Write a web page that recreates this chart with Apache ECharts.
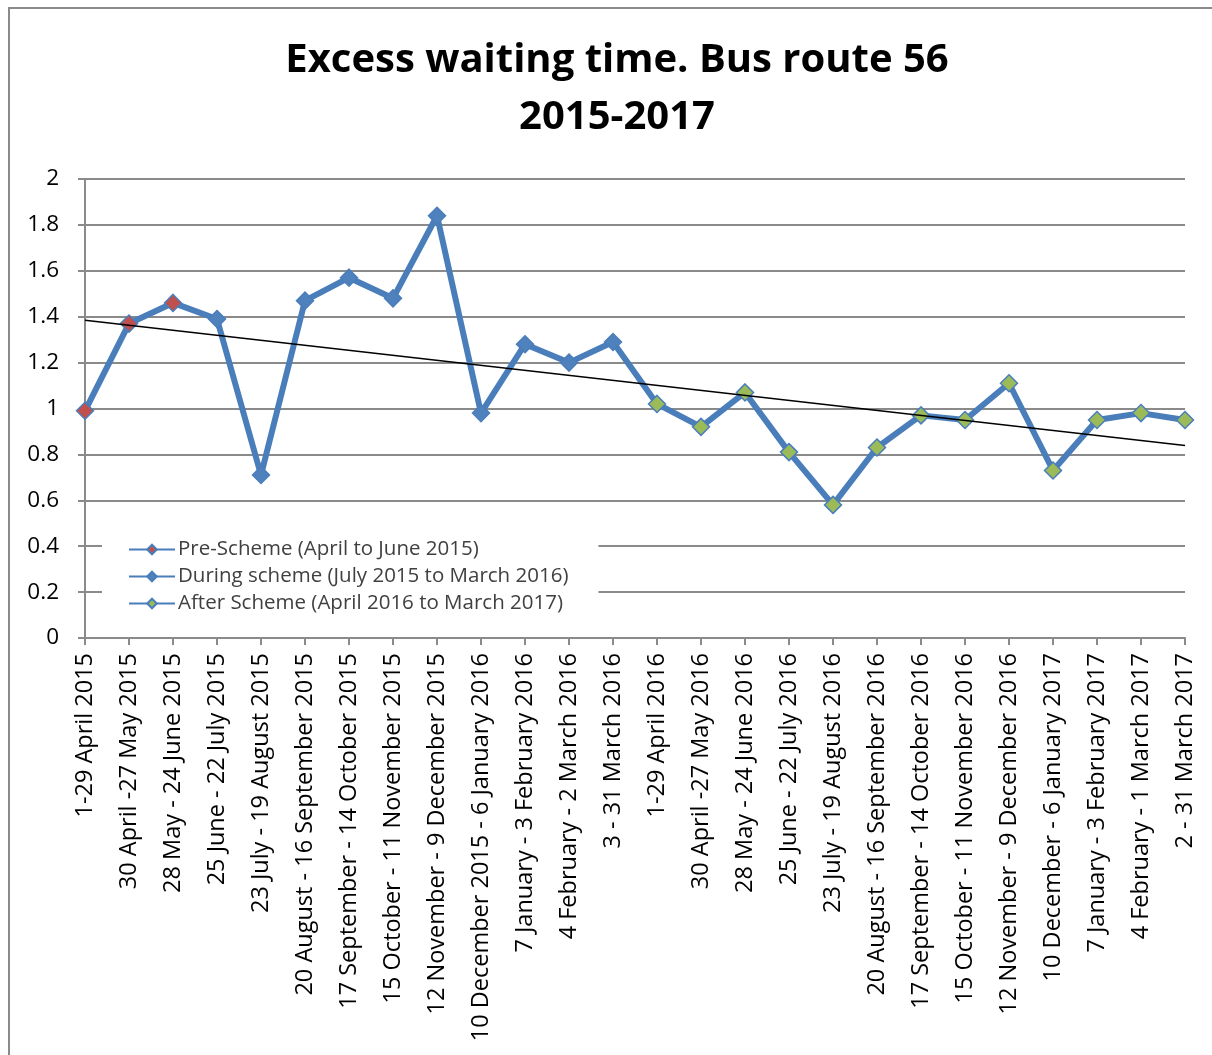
<!DOCTYPE html>
<html>
<head>
<meta charset="utf-8">
<title>Excess waiting time. Bus route 56</title>
<script src="https://cdn.jsdelivr.net/npm/echarts@6/dist/echarts.min.js"></script>
<style>
  html, body { margin: 0; padding: 0; background: #ffffff; }
  #chart { width: 1212px; height: 1055px; }
</style>
</head>
<body>
<div id="chart"></div>
<script>
// Four-weekly reporting periods, April 2015 - March 2017
const categories = [
  '1-29 April 2015', '30 April -27 May 2015', '28 May - 24 June 2015',
  '25 June - 22 July 2015', '23 July - 19 August 2015', '20 August - 16 September 2015',
  '17 September - 14 October 2015', '15 October - 11 November 2015',
  '12 November - 9 December 2015', '10 December 2015 - 6 January 2016',
  '7 January - 3 February 2016', '4 February - 2 March 2016', '3 - 31 March 2016',
  '1-29 April 2016', '30 April -27 May 2016', '28 May - 24 June 2016',
  '25 June - 22 July 2016', '23 July - 19 August 2016', '20 August - 16 September 2016',
  '17 September - 14 October 2016', '15 October - 11 November 2016',
  '12 November - 9 December 2016', '10 December - 6 January 2017',
  '7 January - 3 February 2017', '4 February - 1 March 2017', '2 - 31 March 2017'
];

// Excess waiting time (minutes) per period
const waitingTime = [
  0.99, 1.37, 1.46, 1.39, 0.71, 1.47, 1.57, 1.48, 1.84, 0.98, 1.28, 1.20, 1.29,
  1.02, 0.92, 1.07, 0.81, 0.58, 0.83, 0.97, 0.95, 1.11, 0.73, 0.95, 0.98, 0.95
];

// Scheme phase of each period
const periodPhase = [
  'pre', 'pre', 'pre',
  'during', 'during', 'during', 'during', 'during', 'during', 'during', 'during', 'during', 'during',
  'after', 'after', 'after', 'after', 'after', 'after', 'after', 'after', 'after', 'after', 'after', 'after', 'after'
];

const phaseNames = {
  pre: 'Pre-Scheme (April to June 2015)',
  during: 'During scheme (July 2015 to March 2016)',
  after: 'After Scheme (April 2016 to March 2017)'
};

const yTicks = { min: 0, max: 2, interval: 0.2 };

const lineBlue = '#4A7EBB';
const phaseColor = { pre: '#C0504D', during: '#4F81BD', after: '#9BBB59' };
const font = '"Open Sans", Lato, sans-serif';

// Least-squares linear trend over the period index
function linearTrend(values) {
  const n = values.length;
  let sx = 0, sy = 0, sxx = 0, sxy = 0;
  values.forEach((v, i) => { sx += i; sy += v; sxx += i * i; sxy += i * v; });
  const slope = (n * sxy - sx * sy) / (n * sxx - sx * sx);
  const intercept = (sy - slope * sx) / n;
  return [[0, intercept], [n - 1, intercept + slope * (n - 1)]];
}

const pointData = waitingTime.map((v, i) => ({
  value: v,
  itemStyle: { color: phaseColor[periodPhase[i]] }
}));

const markerStyle = (phase) => ({
  color: phaseColor[phase],
  borderColor: lineBlue,
  borderWidth: 1.5
});

const chart = echarts.init(document.getElementById('chart'), null, { renderer: 'canvas' });

chart.setOption({
  backgroundColor: '#ffffff',
  animation: false,
  title: {
    text: 'Excess waiting time. Bus route 56\n2015-2017',
    left: 612,
    top: 27,
    textAlign: 'center',
    textStyle: {
      fontFamily: font,
      fontWeight: 'bold',
      fontSize: 40,
      lineHeight: 57,
      color: '#000000'
    }
  },
  graphic: [{
    type: 'rect',
    shape: { x: 9, y: 8, width: 1400, height: 1200 },
    style: { fill: 'none', stroke: '#8a8a8a', lineWidth: 2 },
    silent: true,
    z: 0
  }],
  legend: {
    orient: 'vertical',
    left: 102,
    top: 534,
    padding: [5, 30, 8, 26],
    backgroundColor: '#ffffff',
    itemWidth: 46,
    itemHeight: 12,
    itemGap: 6,
    data: [phaseNames.pre, phaseNames.during, phaseNames.after],
    textStyle: {
      fontFamily: font,
      fontSize: 20.5,
      lineHeight: 20,
      color: '#404040',
      padding: [0, 0, 0, -2]
    }
  },
  grid: { left: 85, right: 27, top: 179, bottom: 417, containLabel: false },
  xAxis: {
    type: 'category',
    data: categories,
    boundaryGap: false,
    axisLine: { lineStyle: { color: '#8a8a8a', width: 2 } },
    axisTick: { show: true, alignWithLabel: true, length: 7, lineStyle: { color: '#8a8a8a', width: 2 } },
    axisLabel: {
      interval: 0,
      rotate: 90,
      margin: 15,
      fontFamily: font,
      fontSize: 23.5,
      color: '#000000'
    },
    splitLine: { show: false }
  },
  yAxis: {
    type: 'value',
    min: yTicks.min,
    max: yTicks.max,
    interval: yTicks.interval,
    axisLine: { show: true, lineStyle: { color: '#8a8a8a', width: 2 } },
    axisTick: { show: true, length: 7, lineStyle: { color: '#8a8a8a', width: 2 } },
    axisLabel: {
      margin: 26,
      fontFamily: font,
      fontSize: 22.5,
      color: '#000000'
    },
    splitLine: { show: true, lineStyle: { color: '#8a8a8a', width: 2 } }
  },
  series: [
    {
      name: phaseNames.pre,
      type: 'line',
      data: [],
      symbol: 'diamond',
      lineStyle: { color: lineBlue, width: 3 },
      itemStyle: markerStyle('pre')
    },
    {
      name: phaseNames.during,
      type: 'line',
      data: pointData,
      symbol: 'diamond',
      symbolSize: 17,
      showAllSymbol: true,
      lineStyle: { color: lineBlue, width: 6 },
      itemStyle: markerStyle('during'),
      z: 3
    },
    {
      name: phaseNames.after,
      type: 'line',
      data: [],
      symbol: 'diamond',
      lineStyle: { color: lineBlue, width: 3 },
      itemStyle: markerStyle('after')
    },
    {
      name: 'Linear trend',
      type: 'line',
      data: linearTrend(waitingTime),
      symbol: 'none',
      lineStyle: { color: '#000000', width: 1.5 },
      z: 4,
      silent: true
    }
  ]
});
</script>
</body>
</html>
